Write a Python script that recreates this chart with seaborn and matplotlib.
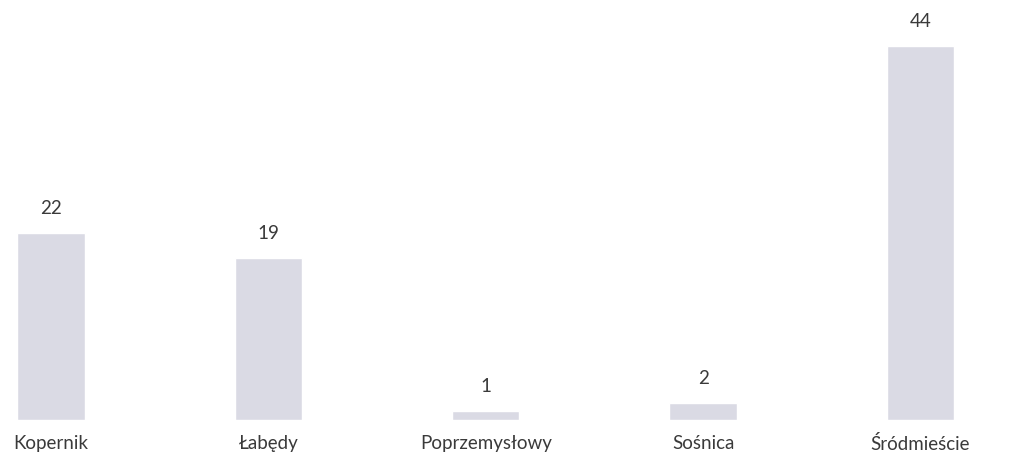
import matplotlib
matplotlib.use("Agg")
import matplotlib.pyplot as plt
import seaborn as sns
import pandas as pd

categories = ["Kopernik", "Łabędy", "Poprzemysłowy", "Sośnica", "Śródmieście"]
values = [22, 19, 1, 2, 44]

df = pd.DataFrame({"dzielnica": categories, "liczba": values})

sns.set_theme(style="white")
plt.rcParams["font.family"] = ["Lato", "DejaVu Sans"]

fig = plt.figure(figsize=(10.14, 4.59), dpi=100)
ax = fig.add_axes([0, 0.085, 1, 0.915])
sns.barplot(data=df, x="dzielnica", y="liczba", color="#dadae4", width=0.31,
            saturation=1, ax=ax)

ax.set_xlim(-0.234, 4.43)
ax.set_ylim(0, 49.4)
for i, v in enumerate(values):
    ax.text(i, v + 2.9, str(v), ha="center", va="center", fontsize=13.5, color="#3a3a3a")

ax.set_xticks(range(len(categories)))
ax.set_xticklabels(categories, fontsize=13.5, color="#3a3a3a")
ax.tick_params(axis="x", length=0, pad=11)
ax.set_yticks([])
ax.set_xlabel("")
ax.set_ylabel("")
for s in ax.spines.values():
    s.set_visible(False)

fig.savefig("out.png", dpi=100)
